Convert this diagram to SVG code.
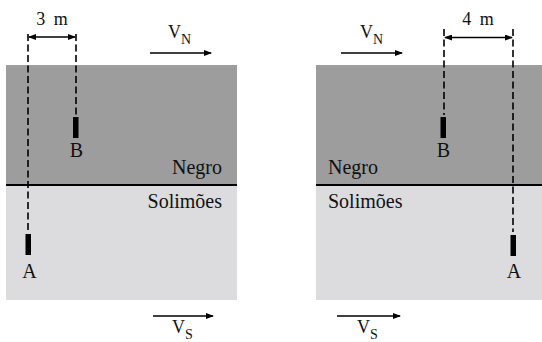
<svg xmlns="http://www.w3.org/2000/svg" width="542" height="342" viewBox="0 0 542 342">
<style>
.dark{fill:#9d9d9d}
.light{fill:#dcdcde}
.bound{stroke:#000;stroke-width:2}
.dash{stroke:#000;stroke-width:1.6;stroke-dasharray:7 3.5;fill:none}
.bar{fill:#000}
text{font-family:"Liberation Serif","Times New Roman",serif;fill:#111}
.lbl{font-size:20px}
.dim{font-size:18px}
.v{font-size:18px}
.sub{font-size:14px}
.arr{stroke:#000;stroke-width:1.4;fill:none}
</style>
<defs>
<marker id="ah" markerUnits="userSpaceOnUse" markerWidth="8" markerHeight="6" refX="7" refY="3" orient="auto-start-reverse">
<path d="M0,0 L8,3 L0,6 z" fill="#000"/>
</marker>
</defs>
<g id="left-panel">
<rect class="dark" x="6" y="65" width="231" height="120"/>
<rect class="light" x="6" y="185" width="231" height="115"/>
<line class="bound" x1="6" y1="185" x2="237" y2="185"/>
<text class="lbl" x="222" y="174" text-anchor="end">Negro</text>
<text class="lbl" x="222" y="208" text-anchor="end">Solimões</text>
</g>
<g id="right-panel">
<rect class="dark" x="316" y="65" width="226" height="120"/>
<rect class="light" x="316" y="185" width="226" height="115"/>
<line class="bound" x1="316" y1="185" x2="542" y2="185"/>
<text class="lbl" x="328" y="174">Negro</text>
<text class="lbl" x="328" y="208">Solimões</text>
</g>
<g id="connectors">
<line class="dash" x1="28" y1="34" x2="28" y2="232"/>
<line class="dash" x1="76" y1="34" x2="76" y2="115"/>
<line class="dash" x1="444" y1="29" x2="444" y2="115"/>
<line class="dash" x1="513" y1="29" x2="513" y2="232"/>
<line class="arr" x1="29" y1="37" x2="75" y2="37" marker-start="url(#ah)" marker-end="url(#ah)"/>
<line class="arr" x1="445" y1="37.5" x2="512" y2="37.5" marker-start="url(#ah)" marker-end="url(#ah)"/>
<line class="arr" x1="150" y1="53" x2="211" y2="53" marker-end="url(#ah)"/>
<line class="arr" x1="341" y1="53" x2="402" y2="53" marker-end="url(#ah)"/>
<line class="arr" x1="153" y1="316" x2="213" y2="316" marker-end="url(#ah)"/>
<line class="arr" x1="337" y1="316" x2="400" y2="316" marker-end="url(#ah)"/>
</g>
<g id="left-B">
<rect class="bar" x="73" y="117" width="5.5" height="21"/>
<text class="lbl" x="76.5" y="157" text-anchor="middle">B</text>
</g>
<g id="left-A">
<rect class="bar" x="25.5" y="234" width="5.5" height="21"/>
<text class="lbl" x="29.5" y="278" text-anchor="middle">A</text>
</g>
<g id="right-B">
<rect class="bar" x="440.5" y="117" width="5.5" height="21"/>
<text class="lbl" x="443.5" y="157" text-anchor="middle">B</text>
</g>
<g id="right-A">
<rect class="bar" x="510.5" y="235" width="5.5" height="21"/>
<text class="lbl" x="514" y="278" text-anchor="middle">A</text>
</g>
<g id="dimension-labels">
<text class="dim" x="52" y="25" text-anchor="middle" word-spacing="4">3 m</text>
<text class="dim" x="478" y="25" text-anchor="middle" word-spacing="4">4 m</text>
</g>
<g id="velocity-labels">
<text class="v" x="168" y="38">V<tspan class="sub" dy="6">N</tspan></text>
<text class="v" x="360" y="38">V<tspan class="sub" dy="6">N</tspan></text>
<text class="v" x="172" y="333">V<tspan class="sub" dy="6">S</tspan></text>
<text class="v" x="357" y="333">V<tspan class="sub" dy="6">S</tspan></text>
</g>
</svg>
